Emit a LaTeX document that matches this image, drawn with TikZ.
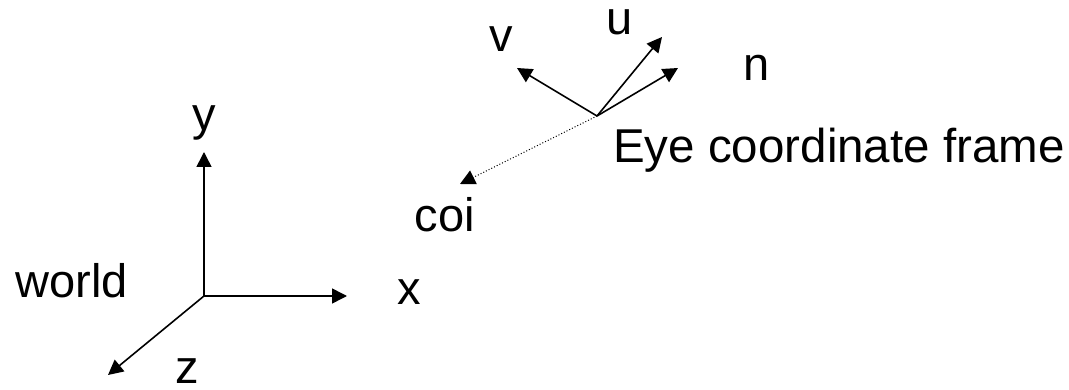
\documentclass[tikz,border=0pt]{standalone}
\usepackage{fontspec}
\setmainfont{Liberation Sans}
\usetikzlibrary{arrows.meta}
\begin{document}
\begin{tikzpicture}[x=1pt,y=-1pt,
  lbl/.style={inner sep=0pt,font=\fontsize{47}{56}\selectfont},
  axis/.style={line width=1.6pt,-{Triangle[length=15pt,width=15pt]}},
  dotarrow/.style={line width=1pt,dotted,-{Triangle[length=15pt,width=15pt]}}]
\useasboundingbox (0,0) rectangle (1069,390);
% world frame
\coordinate (O) at (204,296);
\coordinate (xt) at (347,296);
\coordinate (yt) at (204,152);
\coordinate (zt) at (108,375);
\draw[axis] (O) -- (xt);
\draw[axis] (O) -- (yt);
\draw[axis] (O) -- (zt);
\node[lbl,anchor=base] (ylbl) at (204,131) {y};
\node[lbl,anchor=base] (xlbl) at (409,305) {x};
\node[lbl,anchor=base,text depth=0pt] (zlbl) at (187,383) {z};
\node[lbl,anchor=base east] (world) at (128,298) {world};
% eye frame
\coordinate (E) at (597,116);
\coordinate (vt) at (517,68);
\coordinate (ut) at (662,37);
\coordinate (nt) at (678,68);
\coordinate (ct) at (460,184);
\draw[axis] (E) -- (vt);
\draw[axis] (E) -- (ut);
\draw[axis] (E) -- (nt);
\draw[dotarrow] (E) -- (ct);
\node[lbl,anchor=base] (vlbl) at (501,52) {v};
\node[lbl,anchor=base] (ulbl) at (620,35) {u};
\node[lbl,anchor=base] (nlbl) at (757,81) {n};
\node[lbl,anchor=base] (coi) at (445,232) {coi};
\node[lbl,anchor=base west,font=\fontsize{47.5}{56}\selectfont] (eye) at (613,163) {Eye coordinate frame};
\end{tikzpicture}
\end{document}
